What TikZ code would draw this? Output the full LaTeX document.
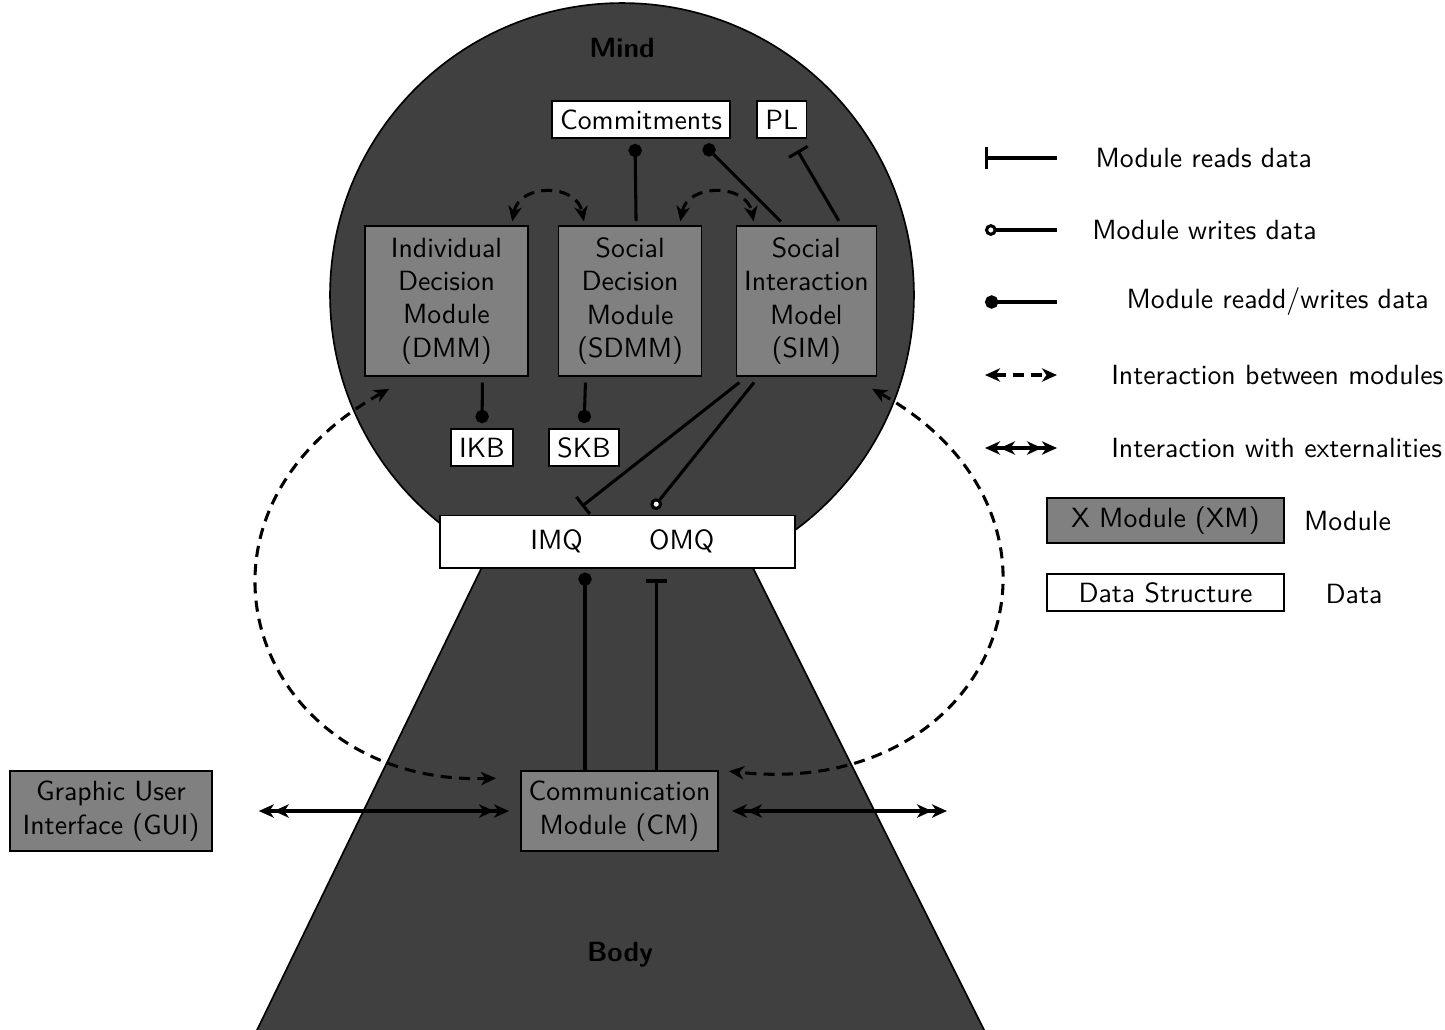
\documentclass[tikz,border=0pt]{standalone}
\usepackage{tikz}
\usetikzlibrary{positioning,arrows.meta}
\definecolor{mindgray}{HTML}{404040}
\definecolor{modgray}{HTML}{808080}
\tikzset{
  >={Stealth[length=5.4pt,width=4.8pt,inset=1.6pt]},
  module/.style={draw,fill=modgray,align=center,line width=0.6pt,minimum height=54pt,inner sep=2pt},
  data/.style={draw,fill=white,line width=0.6pt,minimum height=13.3pt,inner sep=3pt},
  reads/.style={-{Bar[width=7.8pt]},line width=1.1pt},
  writes/.style={-{Circle[open,fill=white,length=4.2pt]},line width=1.1pt},
  rw/.style={-{Circle[length=4.8pt]},line width=1.1pt},
  inter/.style={<->,line width=1.1pt,dash pattern=on 4pt off 2.6pt},
  extern/.style={<<->>,line width=1.1pt},
  legend/.style={anchor=west,inner sep=0pt}
}

\begin{document}
\begin{tikzpicture}[x=0.36pt,y=-0.36pt,font=\sffamily]
  \useasboundingbox (0,0) rectangle (1445,1029);
  \filldraw[fill=mindgray,line width=0.6pt] (622,295) circle[radius=105.1pt];
  \filldraw[fill=mindgray,line width=0.6pt] (485.4,560) -- (749,560) -- (986.6,1035) -- (254.6,1035) -- cycle;

  \node[font=\sffamily\bfseries] (mind) at (622,48) {Mind};
  \node[font=\sffamily\bfseries] (body) at (620,955) {Body};

  \node[module,minimum width=58.7pt] (dmm) at (446.5,301) {Individual\\Decision\\Module\\(DMM)};
  \node[module,minimum width=51.5pt] (sdmm) [right=10.4pt of dmm] {Social\\Decision\\Module\\(SDMM)};
  \node[module,minimum width=50.4pt] (sim) [right=11.9pt of sdmm] {Social\\Interaction\\Model\\(SIM)};

  \node[data] (commit) at (641,119.5) {Commitments};
  \node[data] (pl) [right=9pt of commit] {PL};
  \node[data] (ikb) at (482,447.5) {IKB};
  \node[data] (skb) at (584,447.5) {SKB};

  \node[data,minimum width=127.8pt,minimum height=18.8pt] (queue) at (617.5,541.7) {};
  \node (imq) at (556.7,541.7) {IMQ};
  \node (omq) at (681.7,541.7) {OMQ};

  \node[module,minimum width=71pt,minimum height=28.8pt] (cm) at (619.5,811) {Communication\\Module (CM)};
  \node[module,minimum width=72.7pt,minimum height=28.8pt] (gui) at (111,811) {Graphic User\\Interface (GUI)};
  \coordinate (ext) at (947,811);

  \draw[rw,shorten <=1.5pt,shorten >=1.8pt] ([shift={(6,0)}]sdmm.north) -- ([shift={(-6,0)}]commit.south);
  \draw[rw,shorten <=1.8pt,shorten >=3.2pt] ([shift={(-22,0)}]sim.north) -- ([shift={(-33,0)}]commit.south east);
  \draw[reads,shorten <=1.8pt,shorten >=4.9pt] ([shift={(35,0)}]sim.north) -- ([shift={(9,0)}]pl.south);
  \draw[rw,shorten <=2.1pt,shorten >=1.8pt] ([shift={(36,0)}]dmm.south) -- (ikb.north);
  \draw[rw,shorten <=2.1pt,shorten >=1.8pt] ([shift={(-44.5,0)}]sdmm.south) -- (skb.north);
  \draw[reads,shorten <=3.3pt,shorten >=4.9pt] ([shift={(11,0)}]sim.south west) -- ([shift={(132,0)}]queue.north west);
  \draw[writes,shorten <=2.6pt,shorten >=2.8pt] ([shift={(23,0)}]sim.south west) -- ([shift={(208.5,0)}]queue.north west);
  \draw[rw,shorten >=1.4pt] ([shift={(-34.5,0)}]cm.north) -- ([shift={(-32.5,0)}]queue.south);
  \draw[reads,shorten >=3.9pt] ([shift={(37,0)}]cm.north) -- ([shift={(39,0)}]queue.south);

  \draw[inter,shorten <=1.4pt,shorten >=1.4pt] ([shift={(65,0)}]dmm.north) .. controls +(8,-42) and +(-8,-42) .. ([shift={(-45.5,0)}]sdmm.north);
  \draw[inter,shorten <=1.4pt,shorten >=1.4pt] ([shift={(49.5,0)}]sdmm.north) .. controls +(8,-42) and +(-8,-42) .. ([shift={(-52,0)}]sim.north);
  \draw[inter] ([shift={(25,12)}]dmm.south west) .. controls +(-232,130) and +(-240,8) .. ([shift={(-24,8)}]cm.north west);
  \draw[inter] ([shift={(-5,12)}]sim.south east) .. controls +(232,130) and +(272,30) .. ([shift={(10,1)}]cm.north east);

  \draw[extern] ([shift={(46,0)}]gui.east) -- ([shift={(-11,0)}]cm.west);
  \draw[extern] ([shift={(13,0)}]cm.east) -- (ext);

  \coordinate (la0) at (985,158); \coordinate (la1) at (1057,158);
  \coordinate (lb0) at (985,230); \coordinate (lb1) at (1057,230);
  \coordinate (lc0) at (985,302); \coordinate (lc1) at (1057,302);
  \coordinate (ld0) at (985,375); \coordinate (ld1) at (1057,375);
  \coordinate (le0) at (985,448); \coordinate (le1) at (1057,448);
  \draw[reads] (la1) -- (la0);
  \draw[writes] (lb1) -- (lb0);
  \draw[rw] (lc1) -- (lc0);
  \draw[inter] (ld0) -- (ld1);
  \draw[extern] (le0) -- (le1);
  \node[legend] (lreads) at (1095,158) {Module reads data};
  \node[legend] (lwrites) at (1091.7,230) {Module writes data};
  \node[legend] (lrw) at (1126,302) {Module readd/writes data};
  \node[legend] (linter) at (1110.7,375) {Interaction between modules};
  \node[legend] (lextern) at (1110.7,448) {Interaction with externalities};

  \node[module,minimum width=85.2pt,minimum height=16.2pt] (xm) at (1165.5,520.5) {X Module (XM)};
  \node (lmod) at (1347.5,521) {Module};
  \node[data,minimum width=85.2pt,minimum height=12.6pt] (ds) at (1165.5,592.5) {Data Structure};
  \node (ldata) at (1354,594) {Data};
\end{tikzpicture}
\end{document}
